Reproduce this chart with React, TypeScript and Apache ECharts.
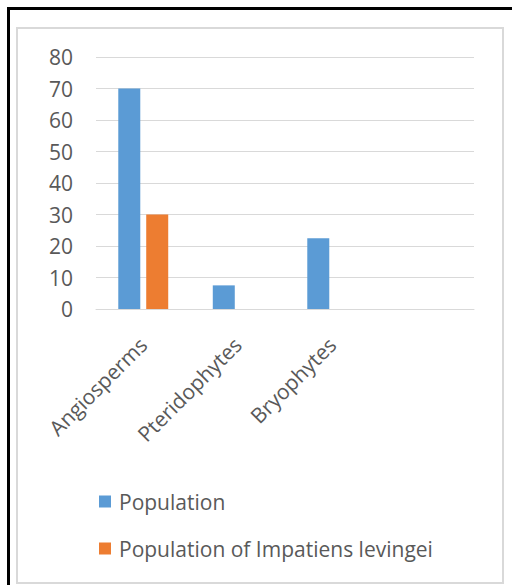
import React, { useEffect, useRef } from "react";
import * as echarts from "echarts";

const categories = ["Angiosperms", "Pteridophytes", "Bryophytes", ""];
const population = [70, 7.5, 22.5, null];
const impatiens = [30, null, null, null];
const seriesNames = ["Population", "Population of Impatiens levingei"];
const yTicks = { min: 0, max: 80, interval: 10 };

const FONT = "Open Sans";
const TXT = "#595959";
const GRID = "#d9d9d9";

export default function App() {
  const ref = useRef<HTMLDivElement>(null);
  useEffect(() => {
    if (!ref.current) return;
    const chart = echarts.init(ref.current, undefined, { renderer: "svg" });
    chart.setOption({
      animation: false,
      backgroundColor: "#ffffff",
      textStyle: { fontFamily: FONT },
      graphic: [
        { type: "rect", shape: { x: 7, y: 7, width: 505, height: 3 }, style: { fill: "#000" } },
        { type: "rect", shape: { x: 7, y: 7, width: 3, height: 578 }, style: { fill: "#000" } },
        {
          type: "rect",
          shape: { x: 17, y: 28, width: 486, height: 555 },
          style: { fill: "none", stroke: GRID, lineWidth: 2 },
        },
      ],
      grid: { left: 96, right: 38, top: 57, bottom: 276, containLabel: false },
      legend: {
        orient: "vertical",
        left: 99,
        top: 491,
        padding: 0,
        itemWidth: 12,
        itemHeight: 12,
        itemGap: 26,
        icon: "rect",
        textStyle: { fontSize: 21, color: TXT, fontFamily: FONT, padding: [0, 0, 0, 3] },
        data: seriesNames,
      },
      xAxis: {
        type: "category",
        data: categories,
        axisTick: { show: false },
        axisLine: { lineStyle: { color: GRID, width: 1 } },
        axisLabel: { rotate: 45, fontSize: 21, color: TXT, fontFamily: FONT, margin: 32, interval: 0 },
      },
      yAxis: {
        type: "value",
        min: yTicks.min,
        max: yTicks.max,
        interval: yTicks.interval,
        axisLine: { show: false },
        axisTick: { show: false },
        splitLine: { lineStyle: { color: GRID, width: 1 } },
        axisLabel: { fontSize: 21, color: TXT, fontFamily: FONT, margin: 23 },
      },
      series: [
        {
          name: seriesNames[0],
          type: "bar",
          data: population,
          barWidth: 22,
          barGap: "27%",
          itemStyle: { color: "#5b9bd5" },
        },
        {
          name: seriesNames[1],
          type: "bar",
          data: impatiens,
          barWidth: 22,
          itemStyle: { color: "#ed7d31" },
        },
      ],
    });
    return () => chart.dispose();
  }, []);
  return (
    <div
      ref={ref}
      style={{ position: "fixed", left: 0, top: 0, width: 512, height: 585 }}
    />
  );
}
